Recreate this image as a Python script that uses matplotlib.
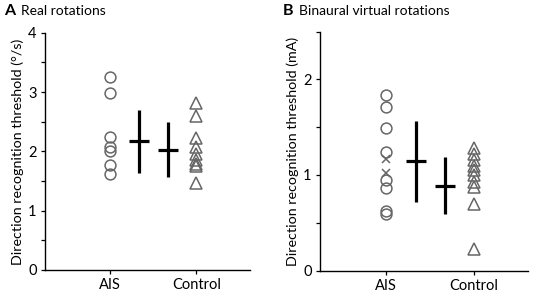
import matplotlib
matplotlib.use('Agg')
import matplotlib.pyplot as plt
from matplotlib.ticker import MultipleLocator

# panel A: real rotations (deg/s)
real_ais = [3.26, 2.98, 2.24, 2.07, 2.01, 1.77, 1.62]
real_control = [2.81, 2.59, 2.22, 2.08, 1.95, 1.85, 1.79, 1.76, 1.46]
real_means = [2.17, 2.03]
real_lower = [1.64, 1.57]
real_upper = [2.70, 2.49]

# panel B: binaural virtual rotations (mA)
virt_ais = [1.836, 1.714, 1.488, 1.244, 0.948, 0.860, 0.623, 0.588]
virt_ais_x = [1.167, 1.018]
virt_control = [1.28, 1.22, 1.16, 1.09, 1.05, 1.0, 0.93, 0.87, 0.70, 0.23]
virt_means = [1.15, 0.89]
virt_lower = [0.72, 0.59]
virt_upper = [1.57, 1.19]

groups = ['AIS', 'Control']

plt.rcParams['font.family'] = ['Lato', 'DejaVu Sans']
GREY = '#666666'


def draw_panel(ax, ais, control, means, lower, upper, ylim, ylabel, ais_x=None):
	ax.plot([1] * len(ais), ais, 'o', ms=7.8, mfc='none', mec=GREY, mew=1.1, clip_on=False)
	if ais_x:
		ax.plot([1] * len(ais_x), ais_x, 'x', ms=6, mec=GREY, mew=1.1)
	ax.plot([2] * len(control), control, '^', ms=9, mfc='none', mec=GREY, mew=1.1)

	xm = [1.34, 1.67]
	yerr = [[m - l for m, l in zip(means, lower)], [u - m for m, u in zip(means, upper)]]
	ax.errorbar(xm, means, yerr=yerr, fmt='_', color='black', elinewidth=2.3,
				ms=15, mew=2.3, capsize=0)

	ax.set_xlim(0.25, 2.62)
	ax.set_ylim(*ylim)
	ax.set_xticks([1, 2])
	ax.set_xticklabels(groups, fontsize=10.5)
	ax.yaxis.set_major_locator(MultipleLocator(1))
	ax.yaxis.set_minor_locator(MultipleLocator(0.5))
	ax.tick_params(axis='both', which='major', length=3, width=0.9, labelsize=10.5, pad=3)
	ax.tick_params(axis='y', which='minor', length=3, width=0.9)
	ax.set_ylabel(ylabel, fontsize=10.3, labelpad=3)

	for side in ['top', 'right']:
		ax.spines[side].set_visible(False)
	for side in ['left', 'bottom']:
		ax.spines[side].set_linewidth(1.0)


def main():
	fig = plt.figure(figsize=(5.36, 2.96), dpi=100)
	ax1 = fig.add_axes([0.084, 0.088, 0.382, 0.801])
	ax2 = fig.add_axes([0.597, 0.086, 0.388, 0.807])

	draw_panel(ax1, real_ais, real_control, real_means, real_lower, real_upper,
			   (0, 4), 'Direction recognition threshold (°/s)')
	draw_panel(ax2, virt_ais, virt_control, virt_means, virt_lower, virt_upper,
			   (0, 2.5), 'Direction recognition threshold (mA)', ais_x=virt_ais_x)

	fig.text(0.008, 0.963, 'A', fontsize=11.5, fontweight='bold', va='center')
	fig.text(0.039, 0.963, 'Real rotations', fontsize=10, va='center')
	fig.text(0.528, 0.963, 'B', fontsize=11.5, fontweight='bold', va='center')
	fig.text(0.558, 0.963, 'Binaural virtual rotations', fontsize=10, va='center')

	fig.savefig('out.png', dpi=100)


if __name__ == '__main__':
	main()
